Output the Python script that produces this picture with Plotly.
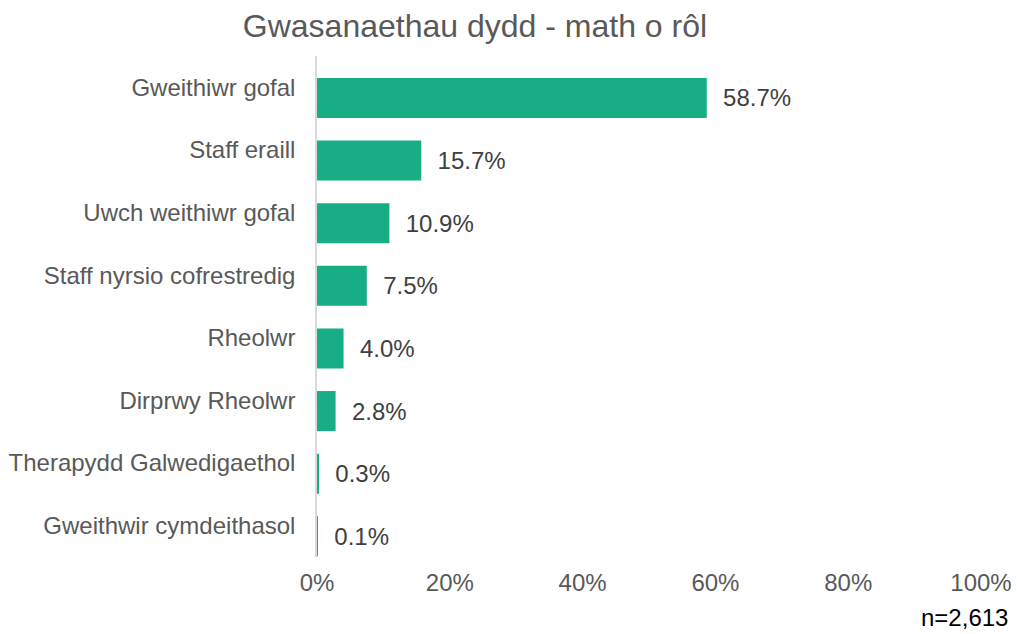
import plotly.graph_objects as go

categories = ["Gweithiwr gofal", "Staff eraill", "Uwch weithiwr gofal",
              "Staff nyrsio cofrestredig", "Rheolwr", "Dirprwy Rheolwr",
              "Therapydd Galwedigaethol", "Gweithwir cymdeithasol"]
values = [58.7, 15.7, 10.9, 7.5, 4.0, 2.8, 0.3, 0.1]
value_labels = ["58.7%", "15.7%", "10.9%", "7.5%", "4.0%", "2.8%", "0.3%", "0.1%"]
x_ticks = [0, 20, 40, 60, 80, 100]
x_ticklabels = ["0%", "20%", "40%", "60%", "80%", "100%"]

FONT = "Liberation Sans, Arial, sans-serif"
GREY = "#595959"

W, H = 1017, 634
L, R, T, B = 317, 36, 56, 77

fig = go.Figure(go.Bar(
    x=values, y=categories, orientation="h",
    marker=dict(color="#17AE86", line=dict(width=0)),
    width=0.64, offset=-0.15,
    text=["  " + s for s in value_labels], textposition="outside",
    textfont=dict(family=FONT, size=24, color="#404040"),
    cliponaxis=False,
))

fig.update_layout(
    width=W, height=H,
    margin=dict(l=L, r=R, t=T, b=B),
    paper_bgcolor="white", plot_bgcolor="white",
    title=dict(text="Gwasanaethau dydd - math o rôl", x=0.467, xanchor="center",
               y=1 - 26 / H, yanchor="middle",
               font=dict(family=FONT, size=32, color=GREY)),
    xaxis=dict(range=[0, 100], tickvals=x_ticks, ticktext=x_ticklabels,
               showgrid=False, zeroline=False, showline=False, automargin=False,
               tickfont=dict(family=FONT, size=24, color=GREY), ticks="",
               ticklabelstandoff=9),
    yaxis=dict(autorange="reversed", showgrid=False, zeroline=False,
               showline=True, linecolor="#d9d9d9", linewidth=1.5, automargin=False,
               ticks="", ticklabelstandoff=15,
               tickfont=dict(family=FONT, size=24, color=GREY)),
    showlegend=False,
    annotations=[dict(text="n=2,613",
                      x=(1010 - L) / (W - L - R), xref="paper", xanchor="right",
                      y=(H - B - 617) / (H - T - B), yref="paper", yanchor="middle",
                      showarrow=False, font=dict(family=FONT, size=24, color="black"))],
)

fig.write_html("out.html", config={"displayModeBar": False},
               post_script="document.body.style.margin='0';")
